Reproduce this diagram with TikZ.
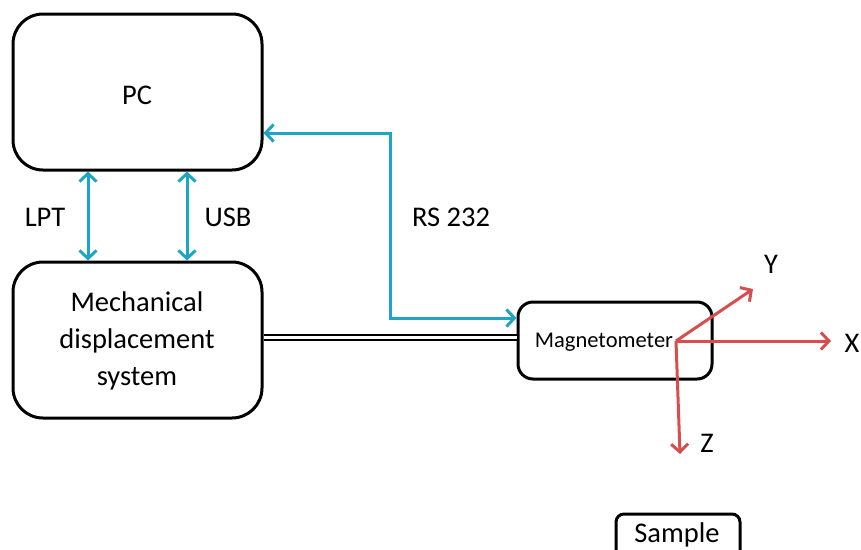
\documentclass[tikz,border=0pt]{standalone}
\usepackage{fontspec}
\setmainfont{Carlito}
\usetikzlibrary{arrows.meta}
\definecolor{linkcyan}{RGB}{30,165,195}
\definecolor{axisred}{RGB}{215,78,78}
\begin{document}
\begin{tikzpicture}[x=1pt,y=-1pt,
  box/.style={draw=black,line width=3pt,rounded corners=#1,inner sep=0pt},
  box/.default=30pt,
  txt/.style={font=\fontsize{28.5}{37}\selectfont,inner sep=0pt,align=center},
  small/.style={font=\fontsize{22.5}{26}\selectfont,inner sep=0pt},
  tip/.style={Straight Barb[length=8pt,width=17pt]},
  link/.style={draw=linkcyan,line width=3pt,{Straight Barb[length=8pt,width=17pt]}-{Straight Barb[length=8pt,width=17pt]}},
  axis/.style={draw=axisred,line width=3pt,-{Straight Barb[length=8pt,width=17pt]}}]
  \useasboundingbox (0,0) rectangle (861,549);
  % main boxes
  \node[box,minimum width=249pt,minimum height=156pt] (pc) at (137.5,92) {};
  \node[txt] (pctext) at (137,95) {PC};
  \node[box,minimum width=249pt,minimum height=156pt] (mech) at (137.5,340) {};
  \node[txt] (mechtext) at (137,341) {Mechanical\\displacement\\system};
  \node[box=15pt,minimum width=194pt,minimum height=77pt] (mag) at (615,340.5) {};
  \node[small] (magtext) at (604,342) {Magnetometer};
  \node[box=8pt,minimum width=124pt,minimum height=46pt] (sample) at (678,537) {};
  \node[txt] (sampletext) at (677,535) {Sample};
  % interface links
  \coordinate (lpt) at (88,0);
  \coordinate (usb) at (187,0);
  \draw[link] (pc.south -| lpt) -- (mech.north -| lpt);
  \draw[link] (pc.south -| usb) -- (mech.north -| usb);
  \coordinate (rstop) at (390,133);
  \coordinate (rsbot) at (390,318);
  \draw[link,rounded corners=0pt] (pc.east |- rstop) -- (rstop) -- (rsbot) -- (mag.west |- rsbot);
  \node[txt] (lptlabel) at (45,217) {LPT};
  \node[txt] (usblabel) at (228,217) {USB};
  \node[txt] (rslabel) at (451,217) {RS 232};
  % mechanical coupling
  \coordinate (shaft) at (0,337.5);
  \draw[black,line width=2pt,double=white,double distance=2.8pt] (mech.east |- shaft) -- (mag.west |- shaft);
  % sensor axes
  \coordinate (o) at (676,341);
  \coordinate (xtip) at (831,341);
  \coordinate (ytip) at (753,289);
  \coordinate (ztip) at (680,454);
  \draw[axis] (o) -- (xtip);
  \draw[axis] (o) -- (ytip);
  \draw[axis] (o) -- (ztip);
  \node[txt] (xlabel) at (852,343) {X};
  \node[txt] (ylabel) at (771,264) {Y};
  \node[txt] (zlabel) at (707,443) {Z};
\end{tikzpicture}
\end{document}
